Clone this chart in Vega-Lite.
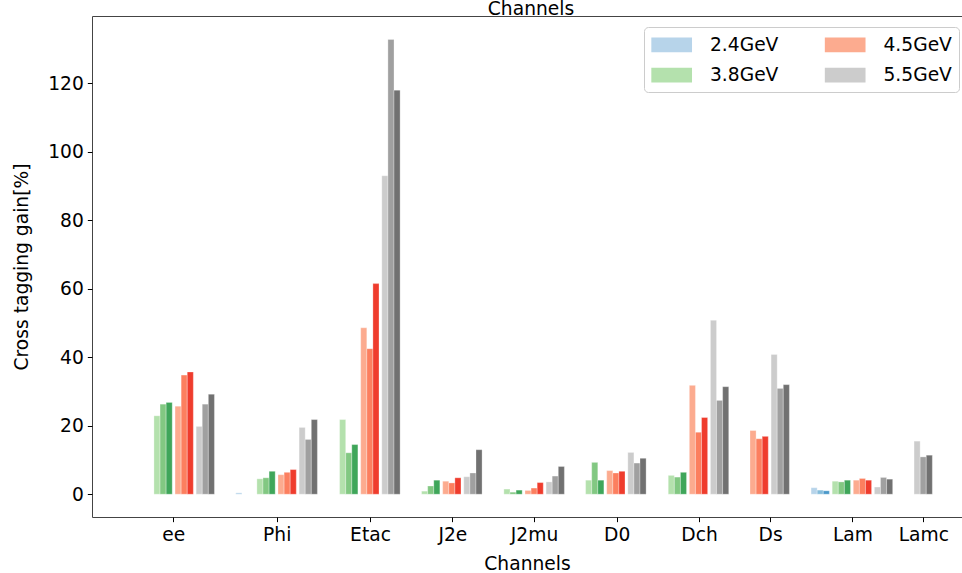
{
  "$schema": "https://vega.github.io/schema/vega-lite/v6.json",
  "autosize": "none",
  "width": 870,
  "height": 501,
  "padding": {"left": 92, "top": 16, "right": 0, "bottom": 56},
  "background": "white",
  "config": {
    "font": "DejaVu Sans",
    "view": {"stroke": "#444444", "strokeWidth": 1}
  },
  "title": {"text": "Channels", "fontSize": 18.67, "fontWeight": "normal", "anchor": "middle", "offset": -3, "dx": 4, "color": "black", "font": "DejaVu Sans"},
  "datasets": {
    "channels": [
      {"ch": "ee", "tick": 0, "anchor": 0.021},
      {"ch": "Phi", "tick": 1.256, "anchor": 1.272},
      {"ch": "Etac", "tick": 2.39, "anchor": 2.277},
      {"ch": "J2e", "tick": 3.39, "anchor": 3.273},
      {"ch": "J2mu", "tick": 4.383, "anchor": 4.273},
      {"ch": "D0", "tick": 5.388, "anchor": 5.266},
      {"ch": "Dch", "tick": 6.388, "anchor": 6.27},
      {"ch": "Ds", "tick": 7.251, "anchor": 7.007},
      {"ch": "Lam", "tick": 8.251, "anchor": 8.262},
      {"ch": "Lamc", "tick": 9.113, "anchor": 8.744}
    ],
    "bars": [
      {"ch": "ee", "E": "3.8GeV", "cut": 1, "v": 22.9},
      {"ch": "ee", "E": "3.8GeV", "cut": 2, "v": 26.3},
      {"ch": "ee", "E": "3.8GeV", "cut": 3, "v": 26.8},
      {"ch": "ee", "E": "4.5GeV", "cut": 1, "v": 25.7},
      {"ch": "ee", "E": "4.5GeV", "cut": 2, "v": 34.8},
      {"ch": "ee", "E": "4.5GeV", "cut": 3, "v": 35.7},
      {"ch": "ee", "E": "5.5GeV", "cut": 1, "v": 19.8},
      {"ch": "ee", "E": "5.5GeV", "cut": 2, "v": 26.3},
      {"ch": "ee", "E": "5.5GeV", "cut": 3, "v": 29.2},
      {"ch": "Phi", "E": "2.4GeV", "cut": 1, "v": 0.4},
      {"ch": "Phi", "E": "3.8GeV", "cut": 1, "v": 4.5},
      {"ch": "Phi", "E": "3.8GeV", "cut": 2, "v": 4.8},
      {"ch": "Phi", "E": "3.8GeV", "cut": 3, "v": 6.7},
      {"ch": "Phi", "E": "4.5GeV", "cut": 1, "v": 5.7},
      {"ch": "Phi", "E": "4.5GeV", "cut": 2, "v": 6.4},
      {"ch": "Phi", "E": "4.5GeV", "cut": 3, "v": 7.2},
      {"ch": "Phi", "E": "5.5GeV", "cut": 1, "v": 19.5},
      {"ch": "Phi", "E": "5.5GeV", "cut": 2, "v": 16.0},
      {"ch": "Phi", "E": "5.5GeV", "cut": 3, "v": 21.8},
      {"ch": "Etac", "E": "3.8GeV", "cut": 1, "v": 21.8},
      {"ch": "Etac", "E": "3.8GeV", "cut": 2, "v": 12.1},
      {"ch": "Etac", "E": "3.8GeV", "cut": 3, "v": 14.5},
      {"ch": "Etac", "E": "4.5GeV", "cut": 1, "v": 48.6},
      {"ch": "Etac", "E": "4.5GeV", "cut": 2, "v": 42.5},
      {"ch": "Etac", "E": "4.5GeV", "cut": 3, "v": 61.5},
      {"ch": "Etac", "E": "5.5GeV", "cut": 1, "v": 93.0},
      {"ch": "Etac", "E": "5.5GeV", "cut": 2, "v": 132.8},
      {"ch": "Etac", "E": "5.5GeV", "cut": 3, "v": 118.0},
      {"ch": "J2e", "E": "3.8GeV", "cut": 1, "v": 0.9},
      {"ch": "J2e", "E": "3.8GeV", "cut": 2, "v": 2.4},
      {"ch": "J2e", "E": "3.8GeV", "cut": 3, "v": 4.1},
      {"ch": "J2e", "E": "4.5GeV", "cut": 1, "v": 3.8},
      {"ch": "J2e", "E": "4.5GeV", "cut": 2, "v": 3.3},
      {"ch": "J2e", "E": "4.5GeV", "cut": 3, "v": 4.8},
      {"ch": "J2e", "E": "5.5GeV", "cut": 1, "v": 5.1},
      {"ch": "J2e", "E": "5.5GeV", "cut": 2, "v": 6.2},
      {"ch": "J2e", "E": "5.5GeV", "cut": 3, "v": 13.0},
      {"ch": "J2mu", "E": "3.8GeV", "cut": 1, "v": 1.5},
      {"ch": "J2mu", "E": "3.8GeV", "cut": 2, "v": 0.6},
      {"ch": "J2mu", "E": "3.8GeV", "cut": 3, "v": 1.2},
      {"ch": "J2mu", "E": "4.5GeV", "cut": 1, "v": 1.1},
      {"ch": "J2mu", "E": "4.5GeV", "cut": 2, "v": 1.8},
      {"ch": "J2mu", "E": "4.5GeV", "cut": 3, "v": 3.4},
      {"ch": "J2mu", "E": "5.5GeV", "cut": 1, "v": 3.6},
      {"ch": "J2mu", "E": "5.5GeV", "cut": 2, "v": 5.3},
      {"ch": "J2mu", "E": "5.5GeV", "cut": 3, "v": 8.1},
      {"ch": "D0", "E": "3.8GeV", "cut": 1, "v": 4.1},
      {"ch": "D0", "E": "3.8GeV", "cut": 2, "v": 9.3},
      {"ch": "D0", "E": "3.8GeV", "cut": 3, "v": 4.1},
      {"ch": "D0", "E": "4.5GeV", "cut": 1, "v": 6.9},
      {"ch": "D0", "E": "4.5GeV", "cut": 2, "v": 6.2},
      {"ch": "D0", "E": "4.5GeV", "cut": 3, "v": 6.7},
      {"ch": "D0", "E": "5.5GeV", "cut": 1, "v": 12.2},
      {"ch": "D0", "E": "5.5GeV", "cut": 2, "v": 9.1},
      {"ch": "D0", "E": "5.5GeV", "cut": 3, "v": 10.5},
      {"ch": "Dch", "E": "3.8GeV", "cut": 1, "v": 5.5},
      {"ch": "Dch", "E": "3.8GeV", "cut": 2, "v": 5.0},
      {"ch": "Dch", "E": "3.8GeV", "cut": 3, "v": 6.4},
      {"ch": "Dch", "E": "4.5GeV", "cut": 1, "v": 31.8},
      {"ch": "Dch", "E": "4.5GeV", "cut": 2, "v": 18.1},
      {"ch": "Dch", "E": "4.5GeV", "cut": 3, "v": 22.4},
      {"ch": "Dch", "E": "5.5GeV", "cut": 1, "v": 50.8},
      {"ch": "Dch", "E": "5.5GeV", "cut": 2, "v": 27.4},
      {"ch": "Dch", "E": "5.5GeV", "cut": 3, "v": 31.4},
      {"ch": "Ds", "E": "4.5GeV", "cut": 1, "v": 18.6},
      {"ch": "Ds", "E": "4.5GeV", "cut": 2, "v": 16.2},
      {"ch": "Ds", "E": "4.5GeV", "cut": 3, "v": 16.9},
      {"ch": "Ds", "E": "5.5GeV", "cut": 1, "v": 40.8},
      {"ch": "Ds", "E": "5.5GeV", "cut": 2, "v": 30.9},
      {"ch": "Ds", "E": "5.5GeV", "cut": 3, "v": 32.0},
      {"ch": "Lam", "E": "2.4GeV", "cut": 1, "v": 1.9},
      {"ch": "Lam", "E": "2.4GeV", "cut": 2, "v": 1.2},
      {"ch": "Lam", "E": "2.4GeV", "cut": 3, "v": 1.0},
      {"ch": "Lam", "E": "3.8GeV", "cut": 1, "v": 3.8},
      {"ch": "Lam", "E": "3.8GeV", "cut": 2, "v": 3.6},
      {"ch": "Lam", "E": "3.8GeV", "cut": 3, "v": 4.1},
      {"ch": "Lam", "E": "4.5GeV", "cut": 1, "v": 4.1},
      {"ch": "Lam", "E": "4.5GeV", "cut": 2, "v": 4.6},
      {"ch": "Lam", "E": "4.5GeV", "cut": 3, "v": 4.1},
      {"ch": "Lam", "E": "5.5GeV", "cut": 1, "v": 2.1},
      {"ch": "Lam", "E": "5.5GeV", "cut": 2, "v": 4.9},
      {"ch": "Lam", "E": "5.5GeV", "cut": 3, "v": 4.4},
      {"ch": "Lamc", "E": "5.5GeV", "cut": 1, "v": 15.5},
      {"ch": "Lamc", "E": "5.5GeV", "cut": 2, "v": 10.9},
      {"ch": "Lamc", "E": "5.5GeV", "cut": 3, "v": 11.4}
    ]
  },
  "data": {"name": "bars"},
  "transform": [
    {"lookup": "ch", "from": {"data": {"name": "channels"}, "key": "ch", "fields": ["anchor"]}},
    {"calculate": "datum.anchor + (indexof(['2.4GeV','3.8GeV','4.5GeV','5.5GeV'], datum.E) - 2) * 0.2564 + (datum.cut - 1) * 0.0741", "as": "x0"},
    {"calculate": "datum.x0 + 0.0741", "as": "x1"},
    {"calculate": "datum.E + ' ' + datum.cut", "as": "key"}
  ],
  "layer": [
    {
      "mark": {"type": "bar", "stroke": "white", "strokeWidth": 0.3},
      "encoding": {
        "x": {
          "field": "x0", "type": "quantitative",
          "scale": {"domain": [-0.988, 9.583], "nice": false, "zero": false},
          "axis": {
            "values": [0, 1.256, 2.39, 3.39, 4.383, 5.388, 6.388, 7.251, 8.251, 9.113],
            "labelExpr": "['ee','Phi','Etac','J2e','J2mu','D0','Dch','Ds','Lam','Lamc'][indexof([0, 1.256, 2.39, 3.39, 4.383, 5.388, 6.388, 7.251, 8.251, 9.113], datum.value)]",
            "title": "Channels", "titleFontSize": 18.67, "titleFontWeight": "normal", "titleColor": "black", "titlePadding": 10,
            "labelFontSize": 18.67, "labelColor": "black", "labelPadding": 4, "labelFlush": false, "labelOverlap": false,
            "tickSize": 4.67, "tickColor": "black", "tickWidth": 1, "domain": false, "grid": false
          }
        },
        "x2": {"field": "x1"},
        "y": {
          "field": "v", "type": "quantitative",
          "scale": {"domain": [-6.65, 139.65], "nice": false, "zero": false},
          "axis": {
            "values": [0, 20, 40, 60, 80, 100, 120],
            "title": "Cross tagging gain[%]", "titleFontSize": 18.67, "titleFontWeight": "normal", "titleColor": "black", "titlePadding": 16,
            "labelFontSize": 18.67, "labelColor": "black", "labelPadding": 4,
            "tickSize": 4.67, "tickColor": "black", "tickWidth": 1, "domain": false, "grid": false
          }
        },
        "y2": {"datum": 0},
        "color": {
          "field": "key", "type": "nominal",
          "scale": {
            "domain": ["2.4GeV 1","2.4GeV 2","2.4GeV 3","3.8GeV 1","3.8GeV 2","3.8GeV 3","4.5GeV 1","4.5GeV 2","4.5GeV 3","5.5GeV 1","5.5GeV 2","5.5GeV 3"],
            "range": ["#b7d4ea","#84bcdb","#4a98c9","#b4e1ad","#82c882","#3fa65a","#fcab8f","#fc7f5f","#ef3c2d","#cccccc","#a0a0a0","#717171"]
          },
          "legend": null
        }
      }
    },
    {
      "transform": [{"filter": "false"}],
      "mark": "bar",
      "encoding": {
        "color": {
          "field": "E", "type": "nominal",
          "scale": {"domain": ["2.4GeV","3.8GeV","4.5GeV","5.5GeV"], "range": ["#b7d4ea","#b4e1ad","#fcab8f","#cccccc"]},
          "legend": {
            "orient": "none", "legendX": 552, "legendY": 11, "columns": 2, "title": null,
            "symbolType": "M-1,-0.72H3V0.72H-1Z", "symbolSize": 414, "symbolStrokeWidth": 0, "symbolOpacity": 1,
            "labelFontSize": 18.67, "labelFont": "DejaVu Sans", "labelColor": "black", "labelOffset": 38, "labelLimit": 300,
            "columnPadding": 45.5, "rowPadding": 9.65, "padding": 7,
            "strokeColor": "#cccccc", "fillColor": "white", "cornerRadius": 4
          }
        }
      }
    }
  ],
  "resolve": {"scale": {"color": "independent"}}
}
